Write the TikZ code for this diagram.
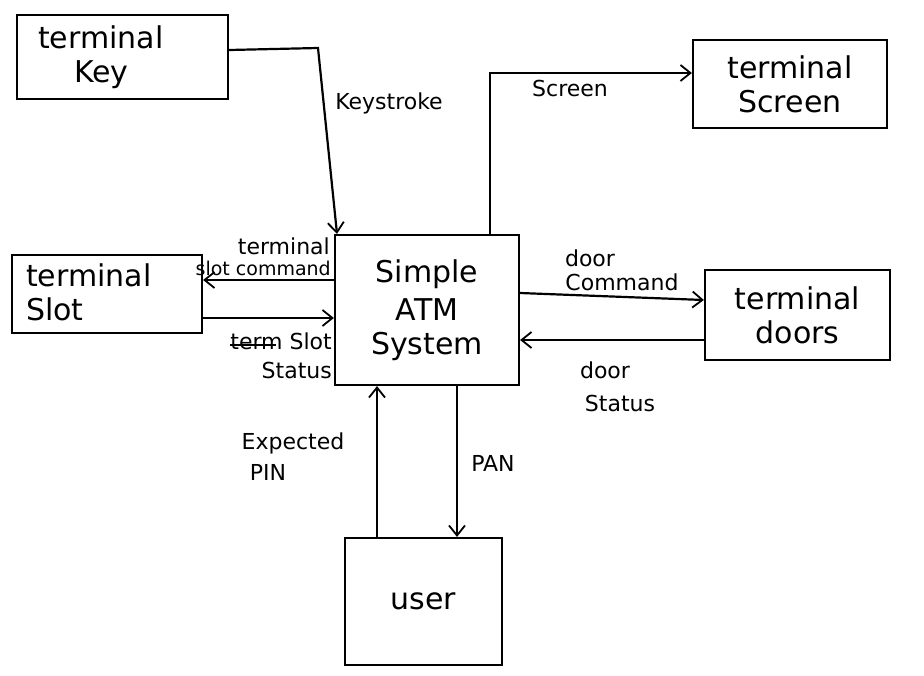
\documentclass[tikz,border=0pt]{standalone}
\usepackage{fontspec}
\setmainfont{DejaVu Sans}
\usetikzlibrary{arrows.meta}
\begin{document}
\begin{tikzpicture}[x=1pt,y=-1pt,
  box/.style={draw,line width=2.2pt,inner sep=0pt,font=\fontsize{30}{34}\selectfont},
  btxt/.style={font=\fontsize{30}{34}\selectfont,align=left,anchor=west,inner sep=0pt},
  lbl/.style={font=\fontsize{22}{26}\selectfont,inner sep=0pt,align=left},
  flow/.style={line width=2.2pt,-{Straight Barb[length=10pt,width=16pt,line width=1.8pt]}}]
\useasboundingbox (0,0) rectangle (924,675);
% boxes
\node[box,minimum width=211pt,minimum height=84pt] (key) at (122.5,57) {};
\node[btxt] (keyt) at (38,57) {terminal\\\hspace{36pt}Key};
\node[box,minimum width=194pt,minimum height=88pt,align=center] (scr) at (790,84) {terminal\\Screen};
\node[box,minimum width=190pt,minimum height=78pt] (slot) at (107,294) {};
\node[btxt] (slott) at (26,292) {terminal\\Slot};
\node[box,minimum width=184pt,minimum height=150pt,align=center] (atm) at (427,310) {Simple\\[4pt]ATM\\System};
\node[box,minimum width=185pt,minimum height=90pt,align=center] (door) at (797.5,315) {terminal\\doors};
\node[box,minimum width=157pt,minimum height=127pt] (user) at (423.5,601.5) {user};
% connectors
\draw[flow] (key.east |- 0,50) -- (318,48) -- (atm.north -| 337,0);
\node[lbl] (lks) at (389,103) {Keystroke};
\draw[flow] (atm.north -| 490,0) -- (490,73) -- (scr.west |- 0,73);
\node[lbl] (lsc) at (570,88) {Screen};
\draw[flow] (atm.west |- 0,280) -- (slot.east |- 0,280);
\node[lbl,anchor=east] (lsc1) at (330,246) {terminal};
\node[lbl,anchor=east,font=\fontsize{19}{22}\selectfont] (lsc2) at (331,268) {slot command};
\draw[flow] (slot.east |- 0,318) -- (atm.west |- 0,318);
\node[lbl,anchor=east] (lss1) at (332,341) {\rlap{\rule[0.3ex]{46pt}{1.4pt}}term Slot};
\node[lbl,anchor=east] (lss2) at (332,370) {Status};
\draw[flow] (atm.east |- 0,293) -- (door.west |- 0,300);
\node[lbl] (ldc1) at (590,258) {door};
\node[lbl] (ldc2) at (622,282) {Command};
\draw[flow] (door.west |- 0,340) -- (atm.east |- 0,340);
\node[lbl] (lds1) at (605,370) {door};
\node[lbl] (lds2) at (620,403) {Status};
\draw[flow] (user.north -| 377,0) -- (atm.south -| 377,0);
\node[lbl] (lep1) at (293,443) {Expected};
\node[lbl] (lep2) at (268,472) {PIN};
\draw[flow] (atm.south -| 457,0) -- (user.north -| 457,0);
\node[lbl] (lpan) at (493,463) {PAN};
\end{tikzpicture}
\end{document}
